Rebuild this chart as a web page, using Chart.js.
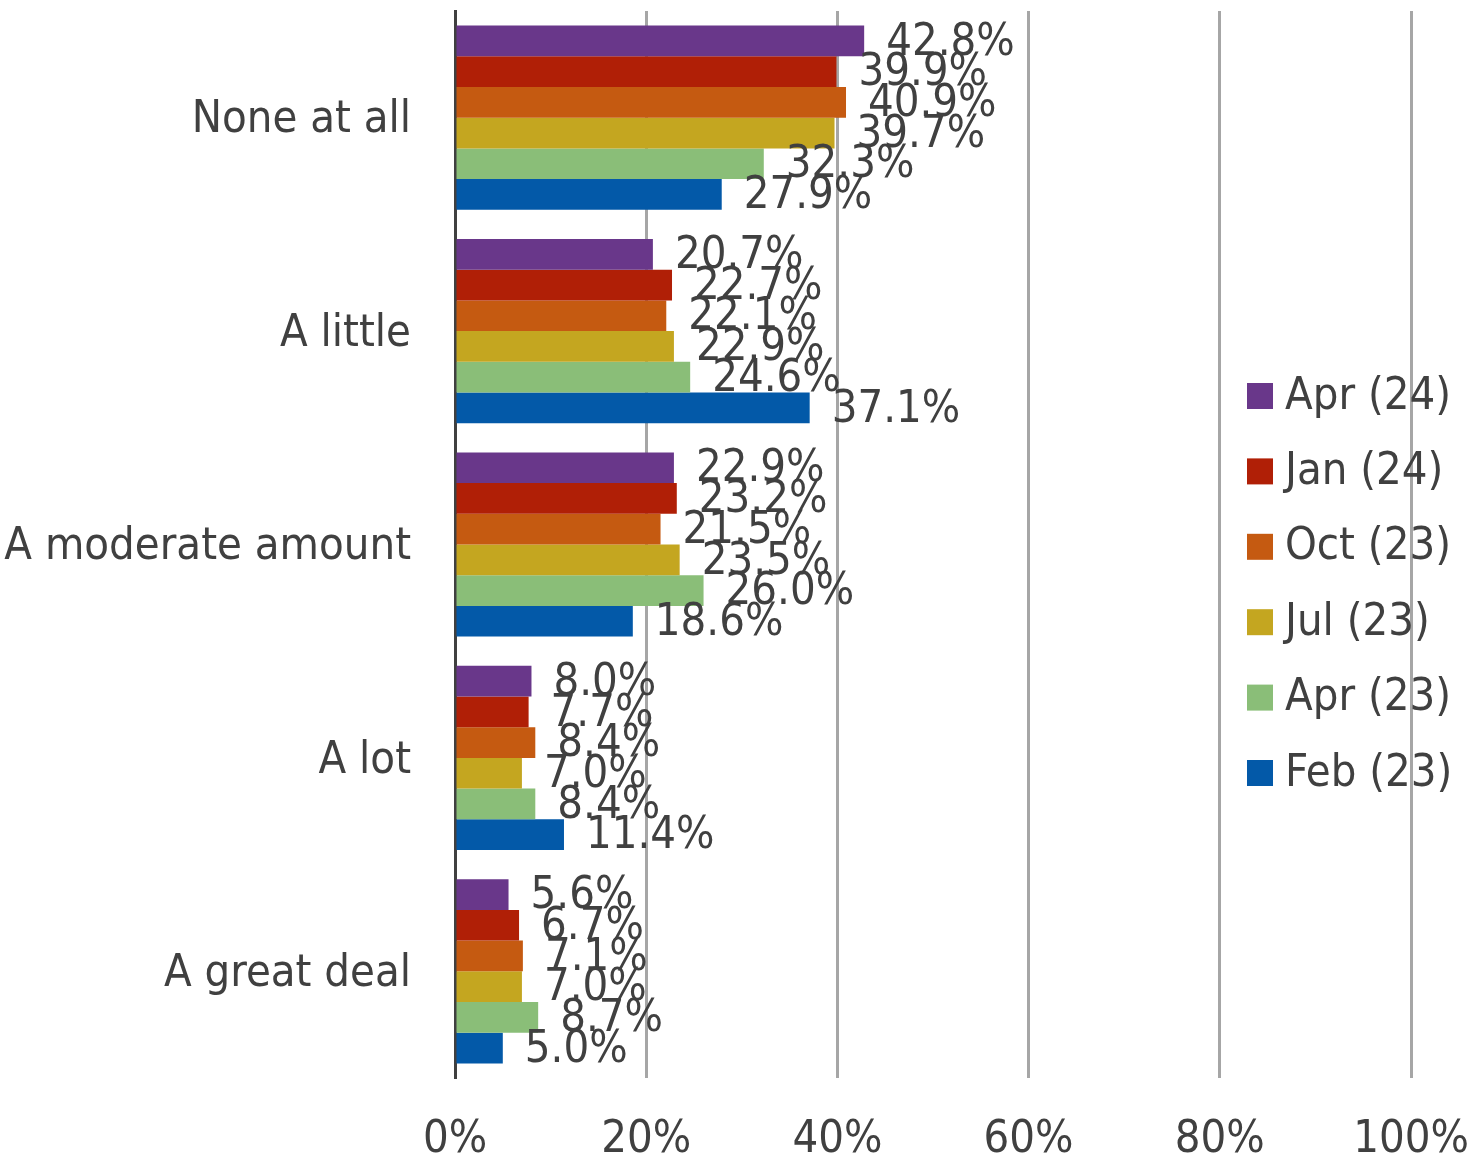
<!DOCTYPE html>
<html>
<head>
<meta charset="utf-8">
<script src="https://cdn.jsdelivr.net/npm/chart.js@4.4.1/dist/chart.umd.min.js"></script>
<style>
  html, body { margin: 0; padding: 0; background: #ffffff; }
  #wrap { width: 1469px; height: 1161px; }
</style>
</head>
<body>
<div id="wrap"><canvas id="c" width="1469" height="1161"></canvas></div>
<script>
// ---- Data ----
const categories = ["None at all", "A little", "A moderate amount", "A lot", "A great deal"];
const seriesNames = ["Apr (24)", "Jan (24)", "Oct (23)", "Jul (23)", "Apr (23)", "Feb (23)"];
const apr24 = [42.8, 20.7, 22.9, 8.0, 5.6];
const jan24 = [39.9, 22.7, 23.2, 7.7, 6.7];
const oct23 = [40.9, 22.1, 21.5, 8.4, 7.1];
const jul23 = [39.7, 22.9, 23.5, 7.0, 7.0];
const apr23 = [32.3, 24.6, 26.0, 8.4, 8.7];
const feb23 = [27.9, 37.1, 18.6, 11.4, 5.0];
const xTickValues = [0, 20, 40, 60, 80, 100];

// ---- Styles ----
const seriesColors = ["#69378A", "#B01F06", "#C55A11", "#C4A620", "#8ABE78", "#0359A8"];
const TEXT = "#404040";

// Font detection: prefer condensed if installed
function pickFont() {
  const c = document.createElement('canvas').getContext('2d');
  c.font = "45px 'DejaVu Sans Condensed'";
  const w1 = c.measureText("Apr (24) moderate").width;
  c.font = "45px 'DejaVu Sans'";
  const w2 = c.measureText("Apr (24) moderate").width;
  if (Math.abs(w1 - w2) > 2) return { family: "'DejaVu Sans Condensed'", size: 45 };
  return { family: "'DejaVu Sans'", size: 40 };
}
const F = pickFont();
const fontStr = F.size + "px " + F.family;

const seriesValues = [apr24, jan24, oct23, jul23, apr23, feb23];

const dataLabelPlugin = {
  id: 'dataLabels',
  afterDatasetsDraw(chart) {
    const ctx = chart.ctx;
    ctx.save();
    ctx.font = fontStr;
    ctx.fillStyle = TEXT;
    ctx.textAlign = 'left';
    ctx.textBaseline = 'middle';
    chart.data.datasets.forEach((ds, i) => {
      const meta = chart.getDatasetMeta(i);
      meta.data.forEach((el, j) => {
        ctx.fillText(ds.data[j].toFixed(1) + '%', el.x + 22, el.y + 2);
      });
    });
    ctx.restore();
  }
};

const legendPlugin = {
  id: 'customLegend',
  afterDraw(chart) {
    const ctx = chart.ctx;
    ctx.save();
    ctx.font = fontStr;
    ctx.textAlign = 'left';
    ctx.textBaseline = 'middle';
    const x0 = 1247, y0 = 396, step = 75.4, box = 26;
    chart.data.datasets.forEach((ds, i) => {
      const y = y0 + i * step;
      ctx.fillStyle = ds.backgroundColor;
      ctx.fillRect(x0, y - box / 2, box, box);
      ctx.fillStyle = TEXT;
      ctx.fillText(ds.label, x0 + 38, y + 1);
    });
    ctx.restore();
  }
};

new Chart(document.getElementById('c'), {
  type: 'bar',
  data: {
    labels: categories,
    datasets: seriesNames.map((name, i) => ({
      label: name,
      data: seriesValues[i],
      backgroundColor: seriesColors[i],
      borderWidth: 0,
      barPercentage: 1.0,
      categoryPercentage: 0.863
    }))
  },
  options: {
    indexAxis: 'y',
    responsive: false,
    animation: false,
    devicePixelRatio: 1,
    layout: { padding: { top: 11, bottom: 0, left: 0, right: 0 } },
    plugins: {
      legend: { display: false },
      tooltip: { enabled: false }
    },
    scales: {
      x: {
        min: 0,
        max: 100,
        afterBuildTicks(scale) { scale.ticks = xTickValues.map(v => ({ value: v })); },
        afterFit(scale) {
          scale.height = 83;
          scale.paddingLeft = 0;
          scale.paddingRight = 58;
        },
        ticks: {
          callback: v => v + '%',
          font: { family: F.family, size: F.size },
          color: TEXT,
          padding: 35,
          maxRotation: 0,
          autoSkip: false
        },
        grid: { color: '#A6A6A6', lineWidth: 3, drawTicks: false },
        border: { display: false }
      },
      y: {
        afterFit(scale) {
          scale.width = 455;
          scale.paddingTop = 0;
          scale.paddingBottom = 0;
        },
        ticks: {
          font: { family: F.family, size: F.size },
          color: TEXT,
          padding: 44,
          labelOffset: 3
        },
        grid: { display: false, drawTicks: false },
        border: { display: true, color: '#404040', width: 3 }
      }
    }
  },
  plugins: [dataLabelPlugin, legendPlugin]
});
</script>
</body>
</html>
